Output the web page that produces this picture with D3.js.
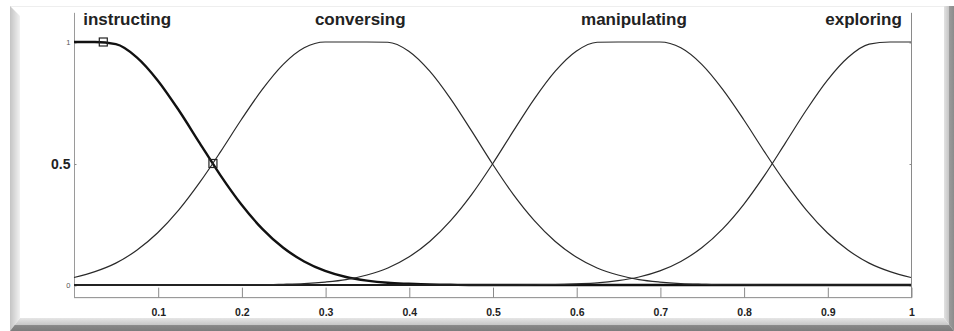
<!DOCTYPE html>
<html>
<head>
<meta charset="utf-8">
<script src="https://cdn.jsdelivr.net/npm/d3@7"></script>
<style>
  html, body { margin: 0; padding: 0; background: #fff; }
  svg { display: block; }
</style>
</head>
<body>
<div id="vis"></div>
<script>
// membership function names and where their labels sit
const names = ["instructing", "conversing", "manipulating", "exploring"]
const labelX = [0.011, 0.342, 0.669, 0.989]

// sample positions along the input axis
const xs = [0, 0.025, 0.05, 0.075, 0.1, 0.125, 0.15, 0.175, 0.2, 0.225,
  0.25, 0.275, 0.3, 0.325, 0.35, 0.375, 0.4, 0.425, 0.45, 0.475,
  0.5, 0.525, 0.55, 0.575, 0.6, 0.625, 0.65, 0.675, 0.7, 0.725,
  0.75, 0.775, 0.8, 0.825, 0.85, 0.875, 0.9, 0.925, 0.95, 0.975, 1]

// membership degree at each sample
const instructing = [1, 1, 0.991, 0.937, 0.842, 0.72, 0.585, 0.451, 0.331, 0.231,
  0.153, 0.097, 0.058, 0.033, 0.018, 0.009, 0.005, 0.002, 0.001, 0,
  0, 0, 0, 0, 0, 0, 0, 0, 0, 0,
  0, 0, 0, 0, 0, 0, 0, 0, 0, 0, 0]
const conversing = [0.031, 0.055, 0.09, 0.143, 0.215, 0.308, 0.421, 0.548, 0.681, 0.805,
  0.908, 0.976, 1, 1, 1, 0.999, 0.962, 0.88, 0.766, 0.634,
  0.498, 0.372, 0.265, 0.179, 0.115, 0.07, 0.041, 0.022, 0.012, 0.006,
  0.003, 0.001, 0.001, 0, 0, 0, 0, 0, 0, 0, 0]
const manipulating = [0, 0, 0, 0, 0, 0, 0, 0, 0.001, 0.001,
  0.003, 0.006, 0.012, 0.022, 0.041, 0.07, 0.115, 0.179, 0.265, 0.372,
  0.498, 0.634, 0.766, 0.88, 0.962, 0.999, 1, 1, 1, 0.976,
  0.908, 0.805, 0.681, 0.548, 0.421, 0.308, 0.215, 0.143, 0.09, 0.055, 0.031]
const exploring = [0, 0, 0, 0, 0, 0, 0, 0, 0, 0,
  0, 0, 0, 0, 0, 0, 0, 0, 0, 0,
  0, 0, 0.001, 0.002, 0.005, 0.009, 0.018, 0.033, 0.058, 0.097,
  0.153, 0.231, 0.331, 0.451, 0.585, 0.72, 0.842, 0.937, 0.991, 1, 1]

// selected-curve markers
const markerX = [0.035, 0.166]
const markerY = [1, 0.5]

// axis ticks
const xTicks = [0.1, 0.2, 0.3, 0.4, 0.5, 0.6, 0.7, 0.8, 0.9, 1]
const yTicks = [0, 0.5, 1]

const width = 954
const height = 331
const series = [instructing, conversing, manipulating, exploring]

const svg = d3.select("#vis").append("svg")
  .attr("width", width)
  .attr("height", height)
  .attr("font-family", "'Liberation Sans', Arial, sans-serif")

// picture frame with bevelled edges
const defs = svg.append("defs")
const lg = defs.append("linearGradient").attr("id", "leftEdge")
lg.append("stop").attr("offset", "0%").attr("stop-color", "#c4c4c4")
lg.append("stop").attr("offset", "100%").attr("stop-color", "#f1f1f1")
const rg = defs.append("linearGradient").attr("id", "rightEdge")
rg.append("stop").attr("offset", "0%").attr("stop-color", "#e2e2e2")
rg.append("stop").attr("offset", "45%").attr("stop-color", "#c8c8c8")
rg.append("stop").attr("offset", "55%").attr("stop-color", "#9a9a9a")
rg.append("stop").attr("offset", "100%").attr("stop-color", "#8c8c8c")
const bg = defs.append("linearGradient").attr("id", "bottomEdge")
  .attr("x1", 0).attr("y1", 0).attr("x2", 0).attr("y2", 1)
bg.append("stop").attr("offset", "0%").attr("stop-color", "#e6e6e6")
bg.append("stop").attr("offset", "50%").attr("stop-color", "#c9c9c9")
bg.append("stop").attr("offset", "58%").attr("stop-color", "#888")
bg.append("stop").attr("offset", "100%").attr("stop-color", "#7c7c7c")

svg.append("line")
  .attr("x1", 10).attr("x2", 944).attr("y1", 6.5).attr("y2", 6.5)
  .attr("stroke", "#eeeeee")
svg.append("polygon")
  .attr("points", "10,6 20,16 20,318 10,331")
  .attr("fill", "url(#leftEdge)")
svg.append("polygon")
  .attr("points", "944,6 954,6 954,331 944,318")
  .attr("fill", "url(#rightEdge)")
svg.append("polygon")
  .attr("points", "20,318 944,318 954,331 10,331")
  .attr("fill", "url(#bottomEdge)")

const x = d3.scaleLinear().domain([0, 1]).range([74, 911])
const y = d3.scaleLinear().domain([0, 1]).range([285, 42])
const yMin = -0.05
const yMax = 1.12

// plot box: left, right and bottom edges
const box = svg.append("g").attr("stroke-width", 1).attr("fill", "none")
box.append("line")
  .attr("x1", x(0) + 0.5).attr("x2", x(0) + 0.5)
  .attr("y1", y(yMax)).attr("y2", y(yMin))
  .attr("stroke", "#9a9a9a")
box.append("line")
  .attr("x1", x(1) + 0.5).attr("x2", x(1) + 0.5)
  .attr("y1", y(yMax)).attr("y2", y(yMin))
  .attr("stroke", "#8a8a8a")
box.append("line")
  .attr("x1", x(0)).attr("x2", x(1) + 1)
  .attr("y1", y(yMin) + 0.5).attr("y2", y(yMin) + 0.5)
  .attr("stroke", "#8a8a8a")

// x axis: ticks point inward, bold labels below
const xAxis = d3.axisBottom(x)
  .tickValues(xTicks)
  .tickSizeInner(-10)
  .tickSizeOuter(0)
  .tickPadding(11)
  .tickFormat(d => d3.format("")(d))

svg.append("g")
  .attr("transform", `translate(0.5,${y(yMin) + 0.5})`)
  .call(xAxis)
  .call(g => g.select(".domain").remove())
  .call(g => g.selectAll(".tick line").attr("stroke", "#8a8a8a"))
  .call(g => g.selectAll(".tick text")
    .attr("fill", "#222")
    .attr("font-size", 10.5)
    .attr("font-weight", "bold")
    .attr("font-family", "'Liberation Sans', Arial, sans-serif")
  )

// y axis: tiny ticks, small 0 and 1, big 0.5
svg.append("g")
  .attr("transform", `translate(${x(0) + 0.5},0.5)`)
  .call(d3.axisLeft(y).tickValues(yTicks).tickSizeInner(-2).tickSizeOuter(0).tickPadding(4)
    .tickFormat(d => d3.format("")(d)))
  .call(g => g.select(".domain").remove())
  .call(g => g.selectAll(".tick line").attr("stroke", "#8a8a8a"))
  .call(g => g.selectAll(".tick text")
    .attr("fill", d => d === 0.5 ? "#222" : "#555")
    .attr("font-size", d => d === 0.5 ? 14 : 7.5)
    .attr("font-weight", d => d === 0.5 ? "bold" : "normal")
    .attr("font-family", "'Liberation Sans', Arial, sans-serif")
  )

svg.append("g")
  .attr("transform", `translate(${x(1) + 0.5},0.5)`)
  .call(d3.axisRight(y).tickValues(yTicks).tickSizeInner(-2).tickSizeOuter(0).tickFormat(""))
  .call(g => g.select(".domain").remove())
  .call(g => g.selectAll(".tick line").attr("stroke", "#8a8a8a"))

// zero baseline
svg.append("line")
  .attr("x1", x(0)).attr("x2", x(1))
  .attr("y1", y(0)).attr("y2", y(0))
  .attr("stroke", "#111")
  .attr("stroke-width", 2)

// membership curves
const line = d3.line()
  .x((d, i) => x(xs[i]))
  .y(d => y(d))
  .curve(d3.curveMonotoneX)

svg.append("g")
  .attr("fill", "none")
  .selectAll("path")
  .data(series)
  .join("path")
  .attr("d", line)
  .attr("stroke", (d, i) => i === 0 ? "#111" : "#2a2a2a")
  .attr("stroke-width", (d, i) => i === 0 ? 2.4 : 1.2)

// square markers on the selected curve
svg.append("g")
  .selectAll("rect")
  .data(markerX)
  .join("rect")
  .attr("x", d => x(d) - 4)
  .attr("y", (d, i) => y(markerY[i]) - 4)
  .attr("width", 8)
  .attr("height", 8)
  .attr("fill", "none")
  .attr("stroke", "#222")
  .attr("stroke-width", 1.2)

// curve names along the top
svg.append("g")
  .selectAll("text")
  .data(names)
  .join("text")
  .attr("x", (d, i) => x(labelX[i]))
  .attr("y", 25)
  .attr("text-anchor", (d, i) => i === 0 ? "start" : i === names.length - 1 ? "end" : "middle")
  .attr("font-size", 17)
  .attr("font-weight", "bold")
  .attr("fill", "#222")
  .text(d => d)
</script>
</body>
</html>
